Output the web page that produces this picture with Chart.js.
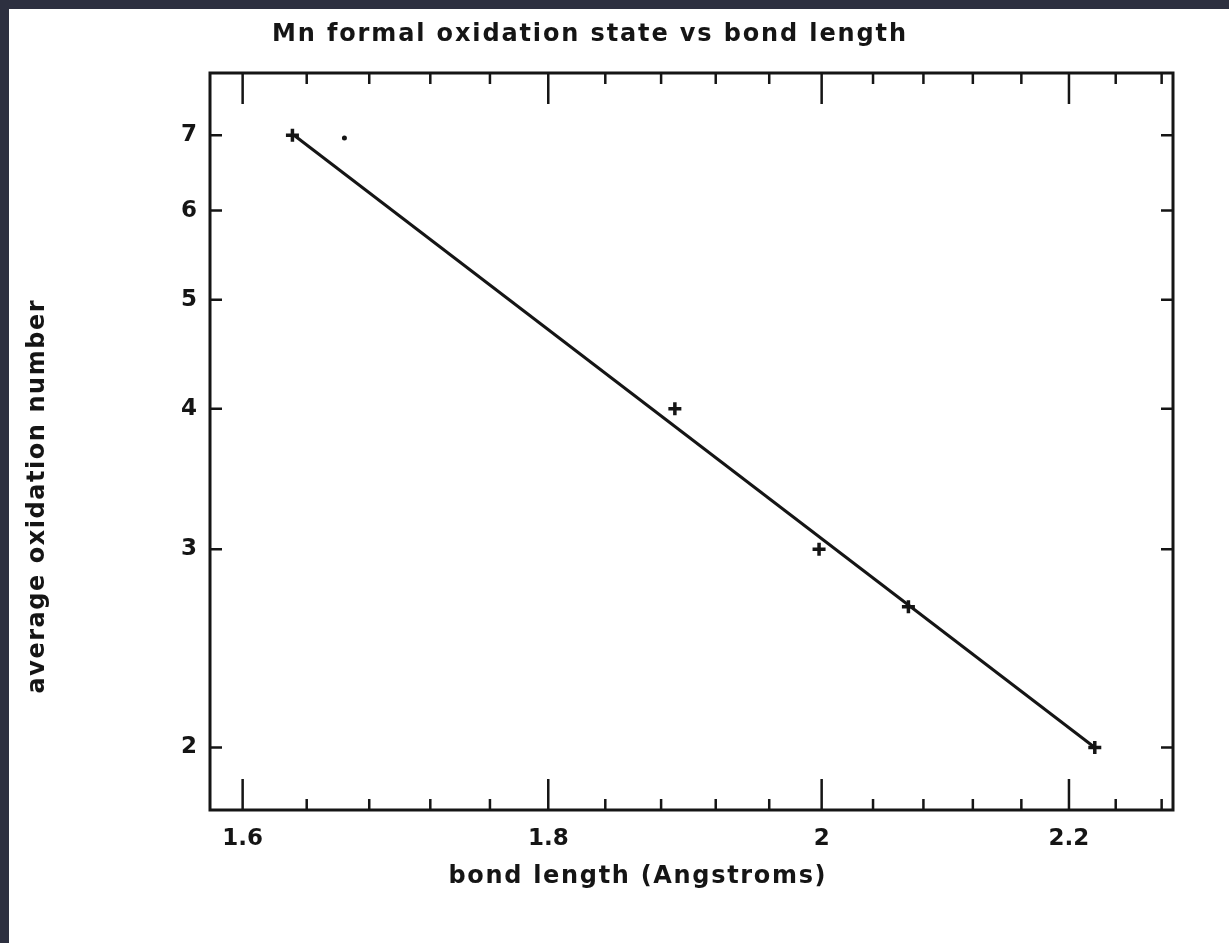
<!DOCTYPE html>
<html>
<head>
<meta charset="utf-8">
<title>Mn formal oxidation state vs bond length</title>
<script src="https://cdn.jsdelivr.net/npm/chart.js@4/dist/chart.umd.min.js"></script>
<style>
  html, body { margin: 0; padding: 0; width: 1229px; height: 943px; overflow: hidden; background: #2d3040; }
  #paper { position: absolute; left: 9px; top: 9px; width: 1220px; height: 934px; background: #ffffff; }
  canvas { display: block; }
</style>
</head>
<body>
<div id="paper"><canvas id="chart" width="1220" height="934"></canvas></div>
<script>
// Measured Mn–O bond lengths (Å) and the formal oxidation state of Mn
const bondLength = [1.631, 1.890, 1.998, 2.068, 2.222];
const oxidationState = [7, 4, 3, 2.667, 2];

// Stray dot printed next to the Mn(VII) point
const dotX = [1.664];
const dotY = [6.96];

// End points of the fitted log–log line
const fitX = [1.632, 2.222];
const fitY = [7, 2];

// Axis ticks
const xTicks = [1.6, 1.64, 1.68, 1.72, 1.76, 1.8, 1.84, 1.88, 1.92, 1.96, 2.0,
                2.04, 2.08, 2.12, 2.16, 2.2, 2.24, 2.28];
const xLabels = ['1.6', '', '', '', '', '1.8', '', '', '', '', '2',
                 '', '', '', '', '2.2', '', ''];
const yTicks = [2, 3, 4, 5, 6, 7];
const yLabels = ['2', '3', '4', '5', '6', '7'];

const chartTitle = 'Mn formal oxidation state vs bond length';
const xTitle = 'bond length (Angstroms)';
const yTitle = 'average oxidation number';

const INK = '#151515';
const FONT = '"DejaVu Sans", sans-serif';

const pts = (xs, ys) => xs.map((x, i) => ({ x, y: ys[i] }));

// Draws text so that it spans a given width by spreading letters
function spreadText(ctx, text, cx, cy, width, size) {
  ctx.font = 'bold ' + size + 'px ' + FONT;
  ctx.letterSpacing = '0px';
  const w = ctx.measureText(text).width;
  const sp = (width - w) / (text.length - 1);
  ctx.letterSpacing = sp.toFixed(2) + 'px';
  ctx.textAlign = 'left';
  ctx.textBaseline = 'middle';
  ctx.fillText(text, cx - width / 2, cy);
  ctx.letterSpacing = '0px';
}

const framePlugin = {
  id: 'frameAndTicks',
  afterDatasetsDraw(chart) {
    const { ctx, chartArea: a, scales } = chart;
    const xs = scales.x, ys = scales.y;
    ctx.save();
    ctx.strokeStyle = INK;
    ctx.lineCap = 'butt';

    // inward ticks on all four sides
    ctx.lineWidth = 2.5;
    xTicks.forEach((v, i) => {
      const px = xs.getPixelForValue(v);
      const len = xLabels[i] ? 31 : 11;
      ctx.beginPath();
      ctx.moveTo(px, a.bottom); ctx.lineTo(px, a.bottom - len);
      ctx.moveTo(px, a.top); ctx.lineTo(px, a.top + len);
      ctx.stroke();
    });
    yTicks.forEach(v => {
      const py = ys.getPixelForValue(v);
      ctx.beginPath();
      ctx.moveTo(a.left, py); ctx.lineTo(a.left + 12, py);
      ctx.moveTo(a.right, py); ctx.lineTo(a.right - 12, py);
      ctx.stroke();
    });

    // frame
    ctx.lineWidth = 3;
    ctx.strokeRect(a.left, a.top, a.right - a.left, a.bottom - a.top);
    ctx.restore();
  },
  afterDraw(chart) {
    const { ctx, chartArea: a } = chart;
    ctx.save();
    ctx.fillStyle = INK;
    spreadText(ctx, chartTitle, a.left + 379, a.top - 38, 634, 24);
    spreadText(ctx, xTitle, a.left + 427, a.bottom + 67, 377, 24);
    ctx.translate(a.left - 172, a.top + 424);
    ctx.rotate(-Math.PI / 2);
    spreadText(ctx, yTitle, 0, 0, 393, 24);
    ctx.restore();
  }
};

new Chart(document.getElementById('chart'), {
  type: 'scatter',
  data: {
    datasets: [
      {
        label: 'fit',
        data: pts(fitX, fitY),
        showLine: true,
        borderColor: INK,
        borderWidth: 3,
        pointRadius: 0,
        fill: false
      },
      {
        label: 'oxidation state',
        data: pts(bondLength, oxidationState),
        pointStyle: 'cross',
        pointRadius: 6.5,
        pointBorderWidth: 3.5,
        pointBorderColor: INK,
        pointBackgroundColor: INK,
        showLine: false
      },
      {
        label: 'dot',
        data: pts(dotX, dotY),
        pointStyle: 'circle',
        pointRadius: 2.5,
        pointBorderWidth: 0,
        pointBackgroundColor: INK,
        showLine: false
      }
    ]
  },
  options: {
    responsive: false,
    animation: false,
    devicePixelRatio: 1,
    layout: { padding: { top: 64, right: 56, left: 0, bottom: 0 } },
    plugins: {
      legend: { display: false },
      title: { display: false },
      tooltip: { enabled: false }
    },
    scales: {
      x: {
        type: 'logarithmic',
        min: 1.58,
        max: 2.29,
        grid: { display: false, drawTicks: false },
        border: { display: false },
        afterBuildTicks: s => { s.ticks = xTicks.map(v => ({ value: v })); },
        afterFit: s => { s.height = 133; },
        ticks: {
          autoSkip: false,
          maxRotation: 0,
          padding: 15,
          color: INK,
          font: { family: FONT, size: 23, weight: 'bold' },
          callback: (v, i) => xLabels[i]
        }
      },
      y: {
        type: 'logarithmic',
        min: 1.76,
        max: 7.95,
        grid: { display: false, drawTicks: false },
        border: { display: false },
        afterBuildTicks: s => { s.ticks = yTicks.map(v => ({ value: v })); },
        afterFit: s => { s.width = 201; },
        ticks: {
          autoSkip: false,
          padding: 13,
          color: INK,
          font: { family: FONT, size: 23, weight: 'bold' },
          callback: (v, i) => yLabels[i]
        }
      }
    }
  },
  plugins: [framePlugin]
});
</script>
</body>
</html>
